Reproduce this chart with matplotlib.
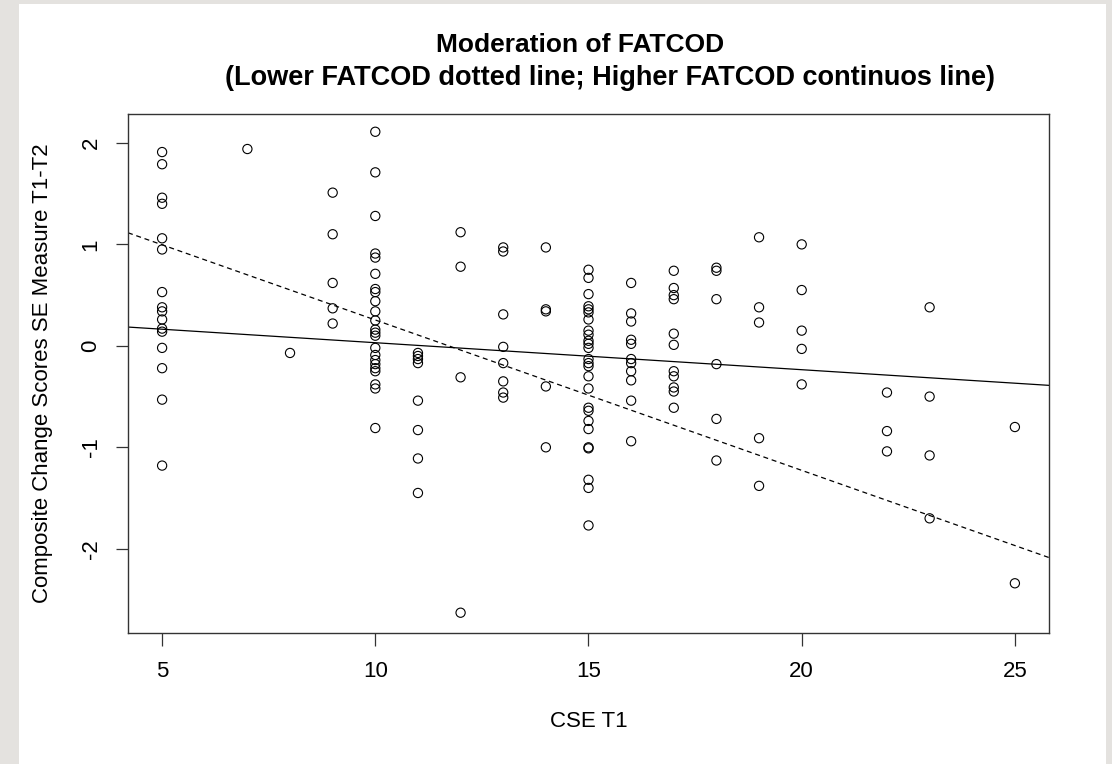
import matplotlib
matplotlib.use("Agg")
import matplotlib.pyplot as plt
from matplotlib.patches import Rectangle

# CSE T1 scores and composite change scores, grouped by x value
cse_values = [5, 7, 8, 9, 10, 11, 12, 13, 14, 15, 16, 17, 18, 19, 20, 22, 23, 25]
change_scores = [
    [1.91, 1.79, 1.46, 1.40, 1.06, 0.95, 0.53, 0.38, 0.34, 0.26, 0.17, 0.14, -0.02, -0.22, -0.53, -1.18],
    [1.94],
    [-0.07],
    [1.51, 1.10, 0.62, 0.37, 0.22],
    [2.11, 1.71, 1.28, 0.91, 0.87, 0.71, 0.56, 0.53, 0.44, 0.34, 0.25, 0.16, 0.13, 0.10,
     -0.02, -0.09, -0.14, -0.18, -0.22, -0.25, -0.38, -0.42, -0.81],
    [-0.07, -0.10, -0.13, -0.17, -0.54, -0.83, -1.11, -1.45],
    [1.12, 0.78, -0.31, -2.63],
    [0.97, 0.93, 0.31, -0.01, -0.17, -0.35, -0.46, -0.51],
    [0.97, 0.36, 0.34, -0.40, -1.00],
    [0.75, 0.67, 0.51, 0.39, 0.36, 0.33, 0.26, 0.15, 0.11, 0.05, 0.02, -0.02, -0.13, -0.17,
     -0.20, -0.30, -0.42, -0.61, -0.64, -0.74, -0.82, -1.00, -1.01, -1.32, -1.40, -1.77],
    [0.62, 0.32, 0.24, 0.06, 0.02, -0.13, -0.17, -0.25, -0.34, -0.54, -0.94],
    [0.74, 0.57, 0.50, 0.46, 0.12, 0.01, -0.25, -0.30, -0.41, -0.45, -0.61],
    [0.77, 0.74, 0.46, -0.18, -0.72, -1.13],
    [1.07, 0.38, 0.23, -0.91, -1.38],
    [1.00, 0.55, 0.15, -0.03, -0.38],
    [-0.46, -0.84, -1.04],
    [0.38, -0.50, -1.08, -1.70],
    [-0.80, -2.34],
]

# regression lines (intercept, slope)
high_fatcod = (0.297, -0.0266)
low_fatcod = (1.737, -0.1482)

xs = []
ys = []
for x, vals in zip(cse_values, change_scores):
    for v in vals:
        xs.append(x)
        ys.append(v)

plt.rcParams['font.family'] = ['Liberation Sans', 'DejaVu Sans']
plt.rcParams['axes.unicode_minus'] = False

fig = plt.figure(figsize=(11.12, 7.64), dpi=100)
fig.patch.set_facecolor('#e4e2df')
fig.patches.append(Rectangle((19 / 1112, 0), (1106 - 19) / 1112, 1 - 4 / 764,
                             transform=fig.transFigure, facecolor='white',
                             edgecolor='none', zorder=-10))

ax = fig.add_axes([128 / 1112, 1 - 633 / 764, (1049 - 128) / 1112, (633 - 113.5) / 764])
ax.scatter(xs, ys, s=44, facecolors='none', edgecolors='black', linewidths=0.8)

ax.axline((0, high_fatcod[0]), slope=high_fatcod[1], color='black', lw=0.9, linestyle='-')
ax.axline((0, low_fatcod[0]), slope=low_fatcod[1], color='black', lw=0.9,
          linestyle=(0, (4, 3)))

ax.set_xlim(4.2, 25.8)
ax.set_ylim(-2.83, 2.29)
ax.set_xticks([5, 10, 15, 20, 25])
ax.set_yticks([-2, -1, 0, 1, 2])
ax.tick_params(axis='both', length=9, width=0.9, labelsize=16, color='#333333')
ax.tick_params(axis='x', pad=11)
ax.tick_params(axis='y', pad=10)
for lbl in ax.get_yticklabels():
    lbl.set_rotation(90)
    lbl.set_va('center')
for spine in ax.spines.values():
    spine.set_linewidth(1.0)
    spine.set_color('#333333')

ax.set_xlabel('CSE T1', fontsize=16, labelpad=21)
ax.set_ylabel('Composite Change Scores SE Measure T1-T2', fontsize=16, labelpad=20)

fig.text(580 / 1112, 1 - 45 / 764, 'Moderation of FATCOD', ha='center', va='center',
         fontsize=19, fontweight='bold')
fig.text(610 / 1112, 1 - 78 / 764,
         '(Lower FATCOD dotted line; Higher FATCOD continuos line)',
         ha='center', va='center', fontsize=19.5, fontweight='bold')

fig.savefig('out.png', dpi=100)
